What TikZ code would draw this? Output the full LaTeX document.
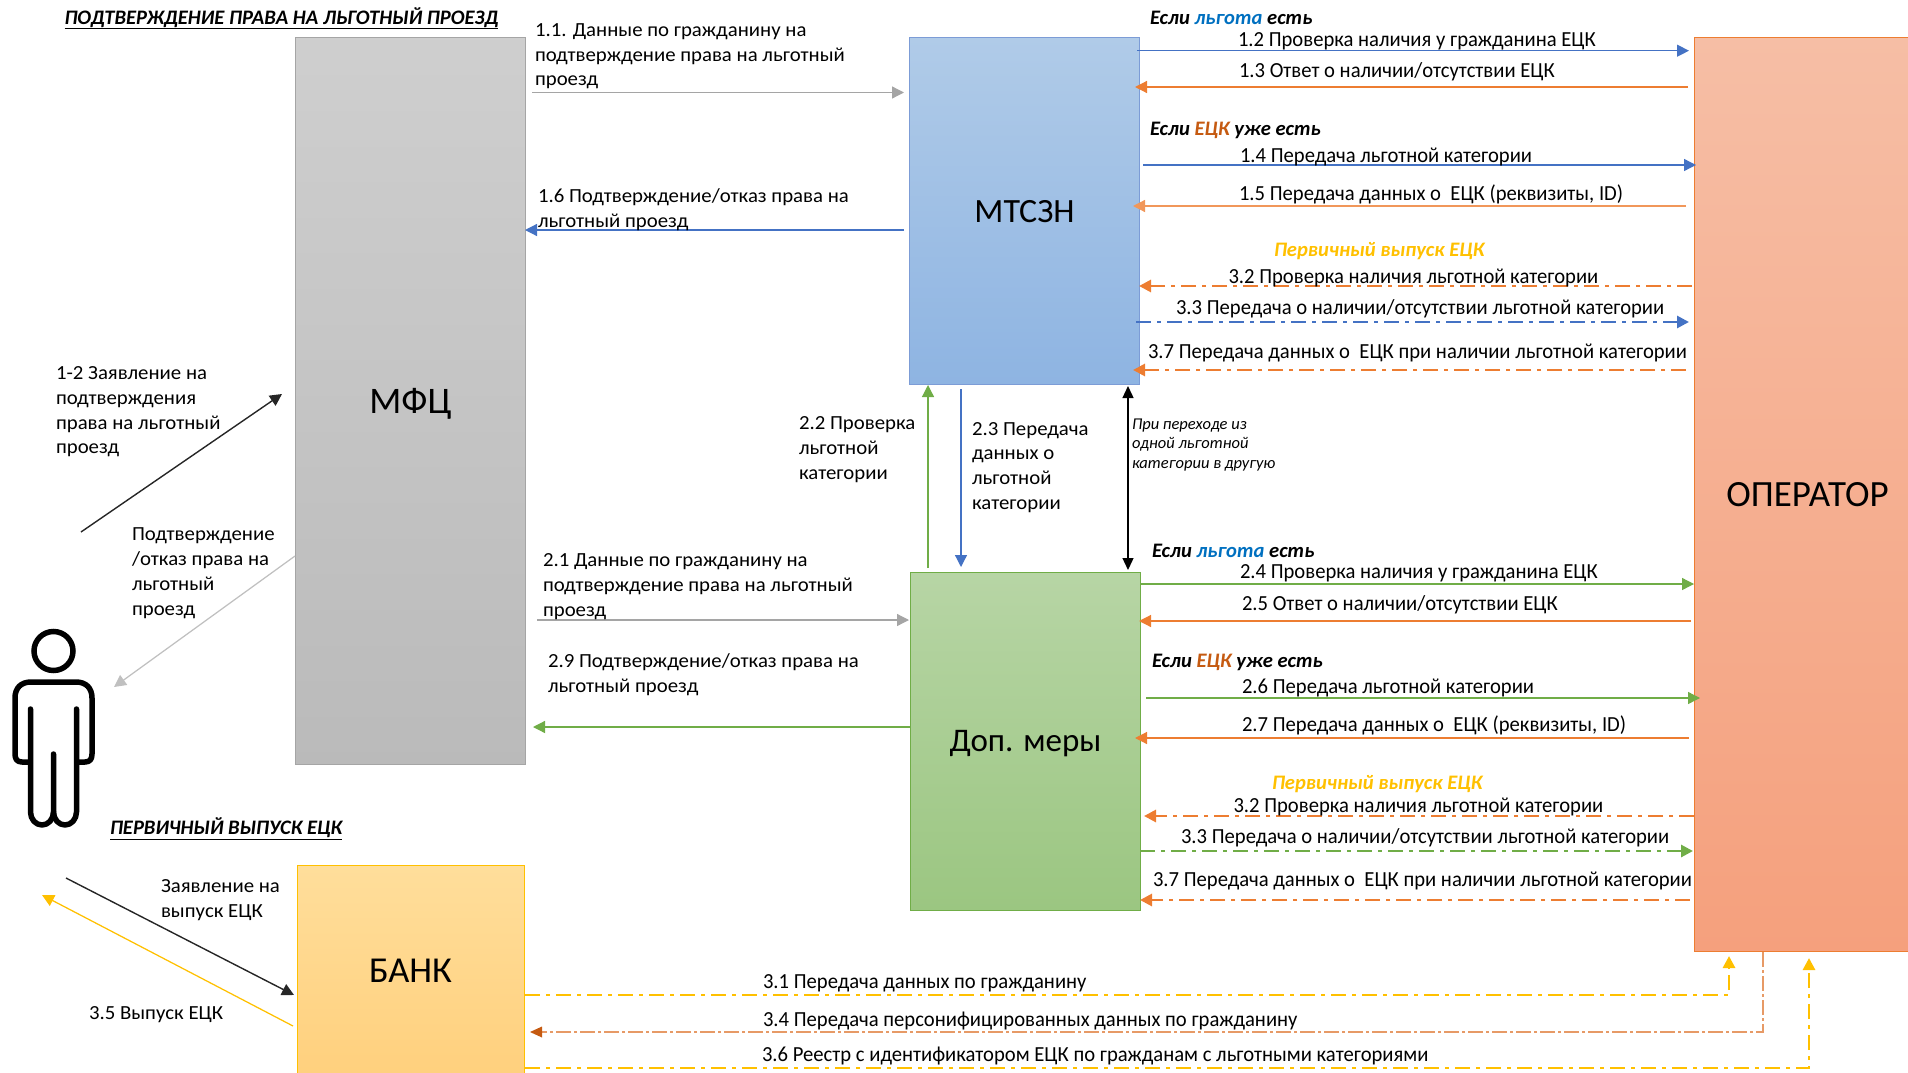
\documentclass[tikz,border=0pt]{standalone}
\usepackage{fontspec}
\setmainfont{Carlito}
\newfontfamily\fwide[FakeStretch=1.04]{Carlito}
\newfontfamily\fnarrow[FakeStretch=0.96]{Carlito}
\usetikzlibrary{arrows.meta,shapes.geometric}
\definecolor{cblue}{HTML}{4472C4}
\definecolor{corange}{HTML}{ED7D31}
\definecolor{cgreen}{HTML}{70AD47}
\definecolor{cyellow}{HTML}{FFC000}
\definecolor{cgray}{HTML}{A5A5A5}
\definecolor{cbrown}{HTML}{C55A11}
\definecolor{clight}{HTML}{0070C0}
\tikzset{
 box/.style={anchor=north west,inner sep=0pt,outer sep=0pt,line width=1pt,text=black,align=center,text depth=0pt},
 tl/.style={anchor=west,inner sep=0pt,outer sep=0pt,align=left,text=black,yshift=-2.4pt,font=\fwide\fontsize{20}{24.8}\selectfont},
 tr/.style={anchor=west,inner sep=0pt,outer sep=0pt,align=left,text=black,yshift=-0.8pt,font=\fnarrow\fontsize{21.5}{24}\selectfont},
 th/.style={anchor=west,inner sep=0pt,outer sep=0pt,align=left,yshift=-1.2pt,font=\fontsize{20.6}{24}\selectfont\bfseries\itshape},
 ts/.style={anchor=west,inner sep=0pt,outer sep=0pt,align=left,yshift=-1pt,font=\fontsize{16.5}{19.8}\selectfont\itshape},
 tip/.style={-{Triangle[length=12pt,width=12pt]}},
 solidarr/.style={tip,line width=1.25pt},
 dasharr/.style={tip,line width=2.8pt,dash pattern=on 15pt off 6pt on 4pt off 6pt},
}
\newcommand{\conn}[6]{%
 \coordinate (#2s) at (#3);\coordinate (#2e) at (#4);
 \draw[#1,#5,#6] (#2s) -- (#2e);}
\begin{document}
\begin{tikzpicture}[x=1pt,y=-1pt]
\useasboundingbox (0,0) rectangle (1908,1073);
\clip (0,0) rectangle (1908,1073);
% boxes
\node[box,draw=cgray,top color=black!19,bottom color=black!27,minimum width=230pt,minimum height=727pt,font=\fontsize{37.5}{40}\selectfont] (mfc) at (295.5,37.5) {МФЦ};
\node[box,draw=cblue!70!white,top color={rgb,255:red,176;green,203;blue,232},bottom color={rgb,255:red,142;green,180;blue,226},minimum width=230pt,minimum height=347pt,font=\fontsize{34}{40}\selectfont] (mtszn) at (909.5,37.5) {МТСЗН};
\node[box,draw=cgreen,top color={rgb,255:red,183;green,213;blue,165},bottom color={rgb,255:red,155;green,198;blue,129},minimum width=230pt,minimum height=338pt,font=\fontsize{33}{40}\selectfont] (dop) at (910.5,572) {Доп. меры};
\node[box,draw=corange,top color={rgb,255:red,246;green,190;blue,165},bottom color={rgb,255:red,245;green,160;blue,125},minimum width=226pt,minimum height=914pt,font=\fontsize{37}{40}\selectfont] (oper) at (1694.5,37.5) {ОПЕРАТОР};
\node[box,draw=cyellow,top color={rgb,255:red,255;green,222;blue,155},bottom color={rgb,255:red,255;green,208;blue,125},minimum width=227pt,minimum height=212pt,font=\fontsize{36.5}{40}\selectfont] (bank) at (297,865) {БАНК};
% person
\node[draw=black,line width=5.5pt,circle,minimum size=39pt,inner sep=0pt] (head) at (53.5,651) {};
\draw[line width=5.5pt,line cap=round,line join=round]
 (30.5,709) -- (30.5,812) arc[start angle=180,end angle=360,x radius=11.5,y radius=-13] -- (53.5,754);
\draw[line width=5.5pt,line cap=round,line join=round]
 (53.5,812) arc[start angle=180,end angle=360,x radius=11.5,y radius=-13] -- (76.5,709);
\draw[line width=5.5pt,line join=round]
 (30.5,762) -- (22,762) .. controls (17,762) and (15,759) .. (15,754) -- (15,698) .. controls (15,688) and (21,682) .. (31,682) -- (76,682) .. controls (86,682) and (92,688) .. (92,698) -- (92,754) .. controls (92,759) and (90,762) .. (85,762) -- (76.5,762);
% arrows left
\conn{solidarr}{a12}{81,532}{282,394}{draw=black!85}{line width=1.4pt}
\conn{solidarr}{ag}{295,556}{114,687}{draw=cgray!70}{tip}
\conn{solidarr}{azv}{66,878}{294,995}{draw=black!85}{line width=1.4pt}
\conn{solidarr}{avp}{293,1026}{42,895}{draw=cyellow}{tip}
% middle
\conn{solidarr}{a11}{532,92.5}{904,92.5}{draw=cgray}{tip}
\conn{solidarr}{a16}{904,230}{525,230}{draw=cblue}{tip}
\conn{solidarr}{a21}{537,620}{909,620}{draw=cgray}{tip}
\conn{solidarr}{a29}{910,727}{533,727}{draw=cgreen}{tip}
\conn{solidarr}{a22}{928,568}{928,385}{draw=cgreen}{tip}
\conn{solidarr}{a23}{961,389}{961,567}{draw=cblue}{tip}
\coordinate (dbs) at (1128,386);\coordinate (dbe) at (1128,570);
\draw[{Triangle[length=12pt,width=11pt]}-{Triangle[length=12pt,width=11pt]},line width=1.3pt] (dbs) -- (dbe);
% right upper
\conn{solidarr}{a12b}{1137,50.7}{1689,50.7}{draw=cblue}{tip}
\conn{solidarr}{a13}{1688,87}{1135,87}{draw=corange}{tip}
\conn{solidarr}{a14}{1143,165}{1696,165}{draw=cblue}{tip}
\conn{solidarr}{a15}{1686,206}{1133,206}{draw=corange!80!white}{tip}
\conn{dasharr}{u32}{1692,286}{1139,286}{draw=corange}{tip}
\conn{dasharr}{u33}{1136,322}{1689,322}{draw=cblue}{tip}
\conn{dasharr}{u37}{1686,370}{1133,370}{draw=corange}{tip}
% right lower
\conn{solidarr}{a24}{1140,584}{1694,584}{draw=cgreen}{tip}
\conn{solidarr}{a25}{1691,621}{1139,621}{draw=corange}{tip}
\conn{solidarr}{a26}{1146,698}{1700,698}{draw=cgreen}{tip}
\conn{solidarr}{a27}{1689,738}{1135,738}{draw=corange}{tip}
\conn{dasharr}{l32}{1694,816}{1144,816}{draw=corange}{tip}
\conn{dasharr}{l33}{1140,851}{1693,851}{draw=cgreen}{tip}
\conn{dasharr}{l37}{1690,900}{1140,900}{draw=corange}{tip}
% bottom
\coordinate (b31s) at (525,995);\coordinate (b31m) at (1729,995);\coordinate (b31e) at (1729,956);
\draw[dasharr,draw=cyellow] (b31s) -- (b31m) -- (b31e);
\coordinate (b34s) at (1763,952);\coordinate (b34m) at (1763,1032);\coordinate (b34e) at (530,1032);
\draw[line width=1.6pt,dash pattern=on 15pt off 3pt on 3pt off 3pt,draw=corange!60!cbrown!70!white] (b34s) -- (b34m) -- (b34e);
\fill[cbrown] (b34e) -- (542,1026.5) -- (542,1037.5) -- cycle;
\coordinate (b36s) at (525,1068);\coordinate (b36m) at (1809,1068);\coordinate (b36e) at (1809,958);
\draw[dasharr,draw=cyellow] (b36s) -- (b36m) -- (b36e);
% titles
\node[th,text=black] (t1) at (64.5,17) {\underline{ПОДТВЕРЖДЕНИЕ ПРАВА НА ЛЬГОТНЫЙ ПРОЕЗД}};
\node[th,text=black] (t2) at (110,827.5) {\underline{ПЕРВИЧНЫЙ ВЫПУСК ЕЦК}};
% left text
\node[tl] (x11) at (535,54) {1.1. Данные по гражданину на\\подтверждение права на льготный\\проезд};
\node[tl] (x16) at (538,207.5) {1.6 Подтверждение/отказ права на\\льготный проезд};
\node[tl] (x12) at (56,409.5) {1-2 Заявление на\\подтверждения\\права на льготный\\проезд};
\node[tl] (xpo) at (132,571) {Подтверждение\\/отказ права на\\льготный\\проезд};
\node[tl] (x22) at (799,447) {2.2 Проверка\\льготной\\категории};
\node[tl] (x23) at (972,465) {2.3 Передача\\данных о\\льготной\\категории};
\node[ts] (xpp) at (1132,444) {При переходе из\\одной льготной\\категории в другую};
\node[tl] (x21) at (543,584) {2.1 Данные по гражданину на\\подтверждение права на льготный\\проезд};
\node[tl] (x29) at (548,672) {2.9 Подтверждение/отказ права на\\льготный проезд};
\node[tl] (xzv) at (161,898) {Заявление на\\выпуск ЕЦК};
\node[tl] (x35) at (89,1012) {3.5 Выпуск ЕЦК};
% right upper text
\node[th] (h1) at (1150,17) {Если \textcolor{clight}{льгота} есть};
\node[tr] (y12) at (1238,40.5) {1.2 Проверка наличия у гражданина ЕЦК};
\node[tr] (y13) at (1239,71) {1.3 Ответ о наличии/отсутствии ЕЦК};
\node[th] (h2) at (1150,129) {Если \textcolor{cbrown}{ЕЦК} уже есть};
\node[tr] (y14) at (1240,156) {1.4 Передача льготной категории};
\node[tr] (y15) at (1239,194) {1.5 Передача данных о\ \ ЕЦК (реквизиты, ID)};
\node[th,text=cyellow] (h3) at (1274,250) {Первичный выпуск ЕЦК};
\node[tr] (y32) at (1228.5,277) {3.2 Проверка наличия льготной категории};
\node[tr] (y33) at (1176,308) {3.3 Передача о наличии/отсутствии льготной категории};
\node[tr] (y37) at (1148,352) {3.7 Передача данных о\ \ ЕЦК при наличии льготной категории};
% right lower text
\node[th] (h4) at (1152,550) {Если \textcolor{clight}{льгота} есть};
\node[tr] (z24) at (1240,572) {2.4 Проверка наличия у гражданина ЕЦК};
\node[tr] (z25) at (1242,603.5) {2.5 Ответ о наличии/отсутствии ЕЦК};
\node[th] (h5) at (1152,661) {Если \textcolor{cbrown}{ЕЦК} уже есть};
\node[tr] (z26) at (1242,687.5) {2.6 Передача льготной категории};
\node[tr] (z27) at (1242,725) {2.7 Передача данных о\ \ ЕЦК (реквизиты, ID)};
\node[th,text=cyellow] (h6) at (1272,783) {Первичный выпуск ЕЦК};
\node[tr] (z32) at (1233.5,806) {3.2 Проверка наличия льготной категории};
\node[tr] (z33) at (1181,837) {3.3 Передача о наличии/отсутствии льготной категории};
\node[tr] (z37) at (1153,880) {3.7 Передача данных о\ \ ЕЦК при наличии льготной категории};
% bottom text
\node[tr] (w31) at (763,982) {3.1 Передача данных по гражданину};
\node[tr] (w34) at (763,1020) {3.4 Передача персонифицированных данных по гражданину};
\node[tr] (w36) at (762,1055) {3.6 Реестр с идентификатором ЕЦК по гражданам с льготными категориями};
\end{tikzpicture}
\end{document}
